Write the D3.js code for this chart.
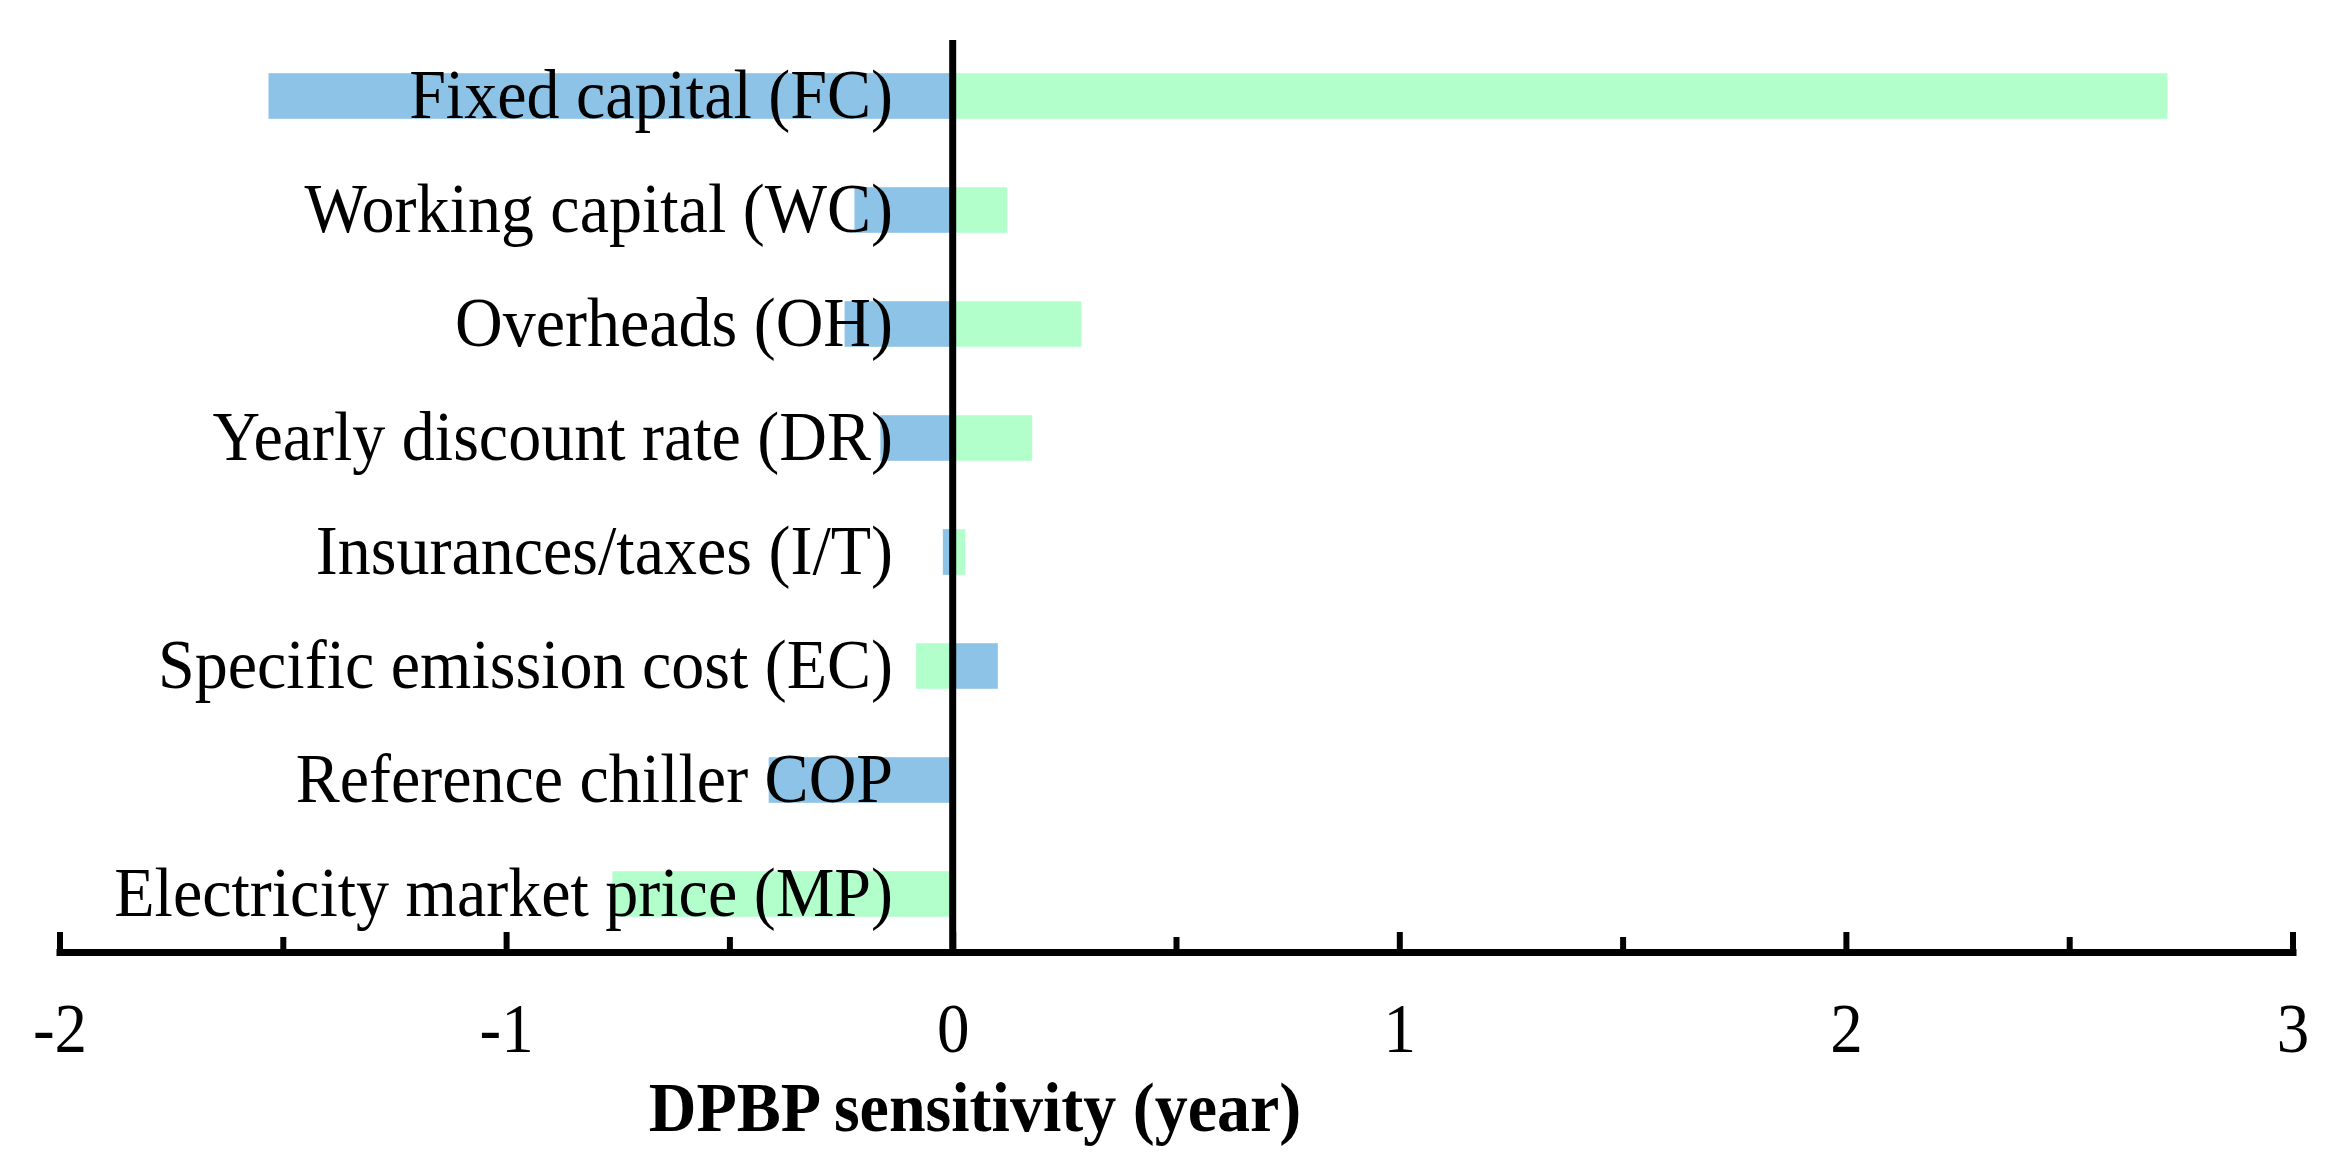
<!DOCTYPE html>
<html>
<head>
<meta charset="utf-8">
<script src="https://cdn.jsdelivr.net/npm/d3@7"></script>
<style>
  html, body { margin: 0; padding: 0; background: #ffffff; }
  svg { display: block; }
</style>
</head>
<body>
<svg id="chart" width="2334" height="1161"></svg>
<script>
// ---- data ----
const categories = [
  "Fixed capital (FC)",
  "Working capital (WC)",
  "Overheads (OH)",
  "Yearly discount rate (DR)",
  "Insurances/taxes (I/T)",
  "Specific emission cost (EC)",
  "Reference chiller COP",
  "Electricity market price (MP)"
];
const greenValues = [2.72, 0.122, 0.288, 0.178, 0.028, -0.082, 0, -0.762];
const blueValues  = [-1.532, -0.220, -0.242, -0.162, -0.022, 0.101, -0.412, 0];
const majorTicks = [-2, -1, 0, 1, 2, 3];
const minorTicks = [-1.5, -0.5, 0.5, 1.5, 2.5];
const xTitle = "DPBP sensitivity (year)";

// ---- layout ----
const svg = d3.select("#chart");
const font = "'Liberation Serif', 'Times New Roman', serif";
const x = d3.scaleLinear().domain([-2, 3]).range([59.5, 2292.5]);
const y = d3.scaleBand().domain(categories).range([39, 951]).paddingInner(0.6).paddingOuter(0.3);
const axisY = 952;
const sy = 1.06;

const colors = { blue: "#8DC3E6", green: "#B3FFCC" };

function drawSeries(vals, color) {
  svg.append("g").selectAll("rect")
    .data(categories.map((c, i) => ({ c, v: vals[i] })))
    .join("rect")
    .attr("x", d => x(Math.min(0, d.v)))
    .attr("width", d => Math.abs(x(d.v) - x(0)))
    .attr("y", d => y(d.c))
    .attr("height", y.bandwidth())
    .attr("fill", color);
}
drawSeries(greenValues, colors.green);
drawSeries(blueValues, colors.blue);

// category labels
svg.append("g").selectAll("text")
  .data(categories)
  .join("text")
  .attr("transform", d => `translate(893,${y(d) + y.bandwidth() / 2 + 22}) scale(1,${sy})`)
  .attr("text-anchor", "end")
  .attr("font-family", font)
  .attr("font-size", 66)
  .attr("fill", "#000")
  .text(d => d);

// vertical zero line
svg.append("line")
  .attr("x1", x(0)).attr("x2", x(0))
  .attr("y1", 40).attr("y2", axisY)
  .attr("stroke", "#000").attr("stroke-width", 7);

// minor ticks
const minorAxis = d3.axisBottom(x).tickValues(minorTicks).tickSize(-15).tickSizeOuter(0).tickFormat("");
const gMinor = svg.append("g").attr("transform", `translate(0,${axisY})`).call(minorAxis);
gMinor.select(".domain").remove();
gMinor.selectAll(".tick line").attr("stroke", "#000").attr("stroke-width", 6);

// major axis
const majorAxis = d3.axisBottom(x).tickValues(majorTicks).tickSize(-20).tickSizeOuter(0)
  .tickFormat(d3.format("d"));
const gMajor = svg.append("g").attr("transform", `translate(0,${axisY})`).call(majorAxis);
gMajor.select(".domain").attr("stroke", "#000").attr("stroke-width", 7).attr("stroke-linecap", "square");
gMajor.selectAll(".tick line").attr("stroke", "#000").attr("stroke-width", 6);
gMajor.selectAll(".tick text")
  .attr("y", null).attr("dy", null)
  .attr("transform", `translate(0,100) scale(1,${sy})`)
  .attr("font-family", font).attr("font-size", 65).attr("fill", "#000")
  .text(d => (d < 0 ? "-" + Math.abs(d) : String(d)));

// axis title
svg.append("text")
  .attr("transform", `translate(975,1131) scale(1,${sy})`)
  .attr("text-anchor", "middle")
  .attr("font-family", font)
  .attr("font-weight", "bold")
  .attr("font-size", 66)
  .attr("fill", "#000")
  .text(xTitle);
</script>
</body>
</html>
